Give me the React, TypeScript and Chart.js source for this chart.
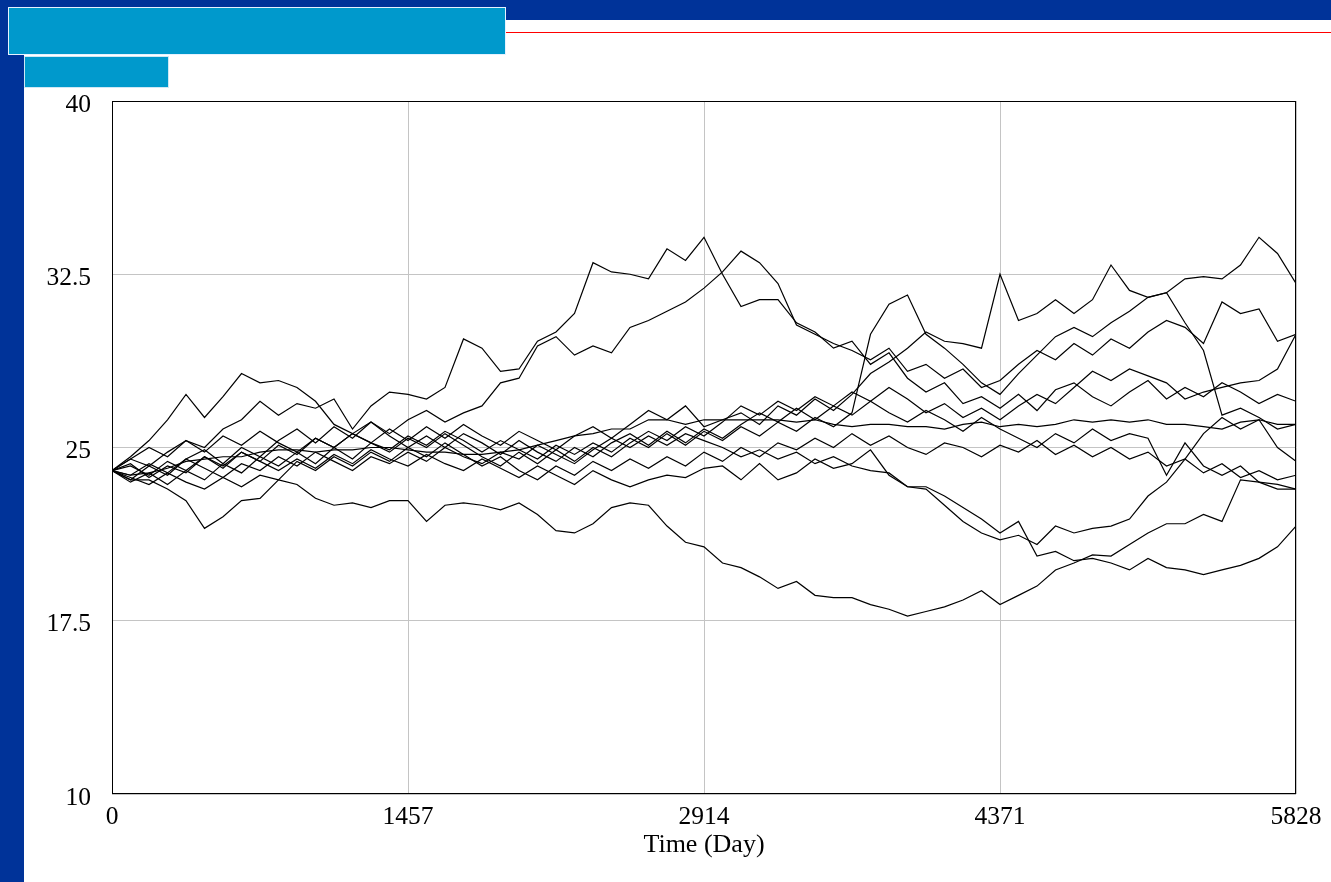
import React, { useEffect, useRef } from "react";
import { Chart, registerables } from "chart.js";

Chart.register(...registerables);

// Axis ticks
const xTicks = [0, 1457, 2914, 4371, 5828];
const yTicks = [10, 17.5, 25, 32.5, 40];
const xMax = 5828;
const timeStep = 91.0625; // days between samples (64 steps over 5828 days)

// Simulated runs (one per sample)
const runA = [
  24.0, 24.5, 24.2, 24.8, 25.3, 25.0, 25.8, 26.2, 27.0, 26.4, 26.9, 26.7, 27.1, 25.8, 26.8, 27.4, 27.3,
  27.1, 27.6, 29.7, 29.3, 28.3, 28.4, 29.6, 30.0, 30.8, 33.0, 32.6, 32.5, 32.3, 33.6, 33.1, 34.1,
  32.5, 31.1, 31.4, 31.4, 30.4, 30.0, 29.3, 29.6, 28.6, 29.1, 28.0, 27.4, 27.8, 26.9, 27.2, 26.7,
  27.3, 26.6, 27.5, 27.8, 27.2, 26.8, 27.4, 27.9, 27.1, 27.6, 27.2, 27.8, 27.4, 26.9, 27.3, 27.0,
];
const runB = [
  24.0, 23.6, 24.2, 23.8, 24.5, 24.9, 24.3, 25.0, 24.6, 25.3, 25.8, 25.2, 25.9, 25.4, 26.1, 25.6, 26.2,
  26.6, 26.1, 26.5, 26.8, 27.8, 28.0, 29.4, 29.8, 29.0, 29.4, 29.1, 30.2, 30.5, 30.9, 31.3, 31.9,
  32.6, 33.5, 33.0, 32.1, 30.3, 29.9, 29.5, 29.2, 28.8, 29.3, 28.3, 28.6, 28.0, 28.4, 27.6, 27.9,
  28.6, 29.2, 28.8, 29.5, 29.0, 29.7, 29.3, 30.0, 30.5, 30.2, 29.5, 31.3, 30.8, 31.0, 29.6, 29.9,
];
const runC = [
  24.0, 24.3, 23.7, 24.2, 23.9, 24.6, 24.1, 24.8, 24.4, 25.1, 24.7, 25.4, 25.0, 25.6, 25.2, 25.8, 25.3,
  25.9, 25.4, 26.0, 25.5, 25.1, 25.7, 25.3, 24.9, 25.5, 25.9, 25.4, 26.0, 26.6, 26.2, 26.8, 25.9,
  26.2, 26.5, 26.0, 26.8, 26.4, 27.1, 26.6, 27.3, 28.2, 28.7, 29.3, 30.0, 29.6, 29.5, 29.3, 32.5,
  30.5, 30.8, 31.4, 30.8, 31.4, 32.9, 31.8, 31.5, 31.7, 32.3, 32.4, 32.3, 32.9, 34.1, 33.4, 32.1,
];
const runD = [
  24.0, 24.5, 25.0, 24.6, 25.3, 24.8, 25.5, 25.1, 25.7, 25.2, 24.8, 25.4, 25.0, 25.6, 25.2, 24.9, 25.5,
  25.1, 25.7, 25.3, 24.8, 25.3, 24.9, 24.5, 25.1, 24.7, 25.2, 24.8, 25.4, 25.0, 25.6, 25.1, 25.7,
  25.3, 25.9, 25.5, 26.1, 25.7, 26.3, 25.9, 26.5, 29.9, 31.2, 31.6, 29.9, 29.3, 28.6, 27.8, 27.3,
  28.2, 29.0, 29.8, 30.2, 29.8, 30.4, 30.9, 31.5, 31.7, 30.4, 29.2, 26.4, 26.7, 26.3, 25.8, 26.0,
];
const runE = [
  24.0, 23.8, 23.9, 24.1, 24.4, 24.5, 24.6, 24.6, 24.8, 24.9, 24.9, 24.8, 24.9, 24.9, 25.0, 25.0, 24.9,
  24.8, 24.8, 24.7, 24.7, 24.8, 24.9, 25.1, 25.3, 25.5, 25.6, 25.8, 25.8, 26.2, 26.2, 26.0, 26.2,
  26.2, 26.2, 26.2, 26.2, 26.1, 26.2, 26.0, 25.9, 26.0, 26.0, 25.9, 25.9, 25.8, 26.0, 26.1, 25.9,
  26.0, 25.9, 26.0, 26.2, 26.1, 26.2, 26.1, 26.2, 26.0, 26.0, 25.9, 25.8, 26.1, 26.2, 26.0, 26.0,
];
const runF = [
  24.0, 23.5, 23.9, 23.4, 24.0, 23.6, 24.3, 23.9, 24.6, 24.2, 24.8, 24.3, 25.0, 24.5, 25.2, 24.8, 25.4,
  25.0, 25.6, 25.1, 24.6, 24.2, 24.8, 24.3, 24.9, 24.4, 25.0, 24.6, 25.2, 25.7, 25.3, 25.9, 25.5,
  26.1, 26.8, 26.4, 27.0, 26.6, 27.2, 26.8, 27.4, 27.0, 27.6, 27.1, 26.5, 26.9, 26.3, 26.7, 26.2,
  26.8, 27.3, 26.9, 27.6, 28.3, 27.9, 28.4, 28.1, 27.8, 27.1, 27.4, 27.6, 27.8, 27.9, 28.4, 29.9,
];
const runG = [
  24.0, 23.7, 23.4, 23.9, 23.5, 23.2, 23.7, 23.3, 23.8, 23.6, 23.4, 22.8, 22.5, 22.6, 22.4, 22.7, 22.7,
  21.8, 22.5, 22.6, 22.5, 22.3, 22.6, 22.1, 21.4, 21.3, 21.7, 22.4, 22.6, 22.5, 21.6, 20.9, 20.7,
  20.0, 19.8, 19.4, 18.9, 19.2, 18.6, 18.5, 18.5, 18.2, 18.0, 17.7, 17.9, 18.1, 18.4, 18.8, 18.2,
  18.6, 19.0, 19.7, 20.0, 20.35, 20.3, 20.8, 21.3, 21.7, 21.7, 22.1, 21.8, 23.6, 23.5, 23.4, 23.2,
];
const runH = [
  24.0, 24.2, 23.8, 24.4, 24.0, 24.6, 24.2, 24.8, 24.4, 24.0, 24.5, 24.1, 24.7, 24.3, 24.9, 24.5, 24.2,
  24.7, 24.3, 24.0, 24.5, 24.1, 23.7, 24.2, 23.8, 23.4, 24.0, 23.6, 23.3, 23.6, 23.8, 23.7, 24.1,
  24.2, 23.6, 24.3, 23.6, 23.9, 24.5, 24.1, 24.3, 24.9, 23.8, 23.3, 23.3, 22.9, 22.4, 21.9, 21.3,
  21.8, 20.3, 20.5, 20.1, 20.2, 20.0, 19.7, 20.2, 19.8, 19.7, 19.5, 19.7, 19.9, 20.2, 20.7, 21.6,
];
const runI = [
  24.0, 23.8, 24.3, 23.9, 24.5, 24.1, 23.7, 24.3, 24.0, 24.6, 24.2, 24.8, 24.4, 24.0, 24.6, 24.3, 24.8,
  24.4, 25.0, 24.6, 24.3, 24.8, 24.5, 25.1, 24.7, 24.3, 24.9, 25.4, 25.0, 25.5, 25.1, 25.6, 25.3,
  25.0, 24.6, 24.9, 24.5, 24.8, 24.3, 24.6, 24.2, 24.0, 23.9, 23.3, 23.2, 22.5, 21.8, 21.3, 21.0,
  21.2, 20.8, 21.6, 21.3, 21.5, 21.6, 21.9, 22.9, 23.5, 24.5, 25.6, 26.3, 25.8, 26.2, 25.0, 24.4,
];
const runJ = [
  24.0, 24.6, 25.3, 26.2, 27.3, 26.3, 27.2, 28.2, 27.8, 27.9, 27.6, 27.0, 26.0, 25.6, 26.1, 25.5, 25.0,
  25.5, 25.0, 25.6, 25.2, 24.7, 25.3, 24.8, 24.4, 25.0, 24.6, 25.2, 25.6, 25.1, 25.7, 25.2, 25.8,
  25.4, 26.0, 26.5, 26.1, 26.7, 26.2, 26.8, 26.4, 27.0, 26.5, 26.1, 26.6, 26.2, 25.7, 26.3, 25.8,
  25.4, 25.0, 25.6, 25.2, 25.8, 25.3, 25.6, 25.4, 23.8, 25.2, 24.2, 23.8, 24.2, 23.5, 23.2, 23.2,
];
const runK = [
  24.0, 23.6, 23.6, 23.2, 22.7, 21.5, 22.0, 22.7, 22.8, 23.6, 24.4, 24.0, 24.6, 24.2, 24.8, 24.4, 25.0,
  24.6, 25.2, 24.7, 24.2, 24.6, 24.0, 23.6, 24.2, 23.8, 24.4, 24.0, 24.5, 24.1, 24.6, 24.2, 24.8,
  24.4, 25.0, 24.6, 25.2, 24.9, 25.4, 25.0, 25.6, 25.1, 25.5, 25.0, 24.7, 25.2, 25.0, 24.6, 25.1,
  24.8, 25.3, 24.7, 25.1, 24.6, 25.0, 24.5, 24.8, 24.2, 24.5, 23.9, 24.3, 23.7, 24.0, 23.6, 23.8,
];

const runs = [runA, runB, runC, runD, runE, runF, runG, runH, runI, runJ, runK];

const FONT = "'Liberation Serif', 'Times New Roman', serif";

const framePlugin = {
  id: "frameBox",
  afterDraw(chart: any) {
    const { ctx, chartArea } = chart;
    const l = Math.round(chartArea.left) + 0.5;
    const t = Math.round(chartArea.top) + 0.5;
    const r = Math.round(chartArea.right) - 0.5;
    const b = Math.round(chartArea.bottom) - 0.5;
    ctx.save();
    ctx.strokeStyle = "#000";
    ctx.lineWidth = 1;
    ctx.strokeRect(l, t, r - l, b - t);
    ctx.restore();
  },
};

export default function App() {
  const ref = useRef<HTMLCanvasElement>(null);

  useEffect(() => {
    document.body.style.margin = "0";
    const days = runA.map((_, i) => i * timeStep);
    const chart = new Chart(ref.current as HTMLCanvasElement, {
      type: "line",
      data: {
        datasets: runs.map((run) => ({
          data: run.map((v, i) => ({ x: days[i], y: v })),
          borderColor: "#000",
          borderWidth: 1.2,
          pointRadius: 0,
          fill: false,
          tension: 0,
        })),
      },
      options: {
        animation: false,
        responsive: false,
        maintainAspectRatio: false,
        layout: { padding: { left: 0, right: 35, top: 101, bottom: 0 } },
        plugins: { legend: { display: false }, tooltip: { enabled: false } },
        scales: {
          x: {
            type: "linear",
            min: 0,
            max: xMax,
            afterBuildTicks: (s: any) => {
              s.ticks = xTicks.map((v) => ({ value: v }));
            },
            afterFit: (s: any) => {
              s.height = 88;
            },
            grid: { color: "#c4c4c4", drawTicks: false, lineWidth: 1 },
            border: { display: false },
            ticks: {
              color: "#000",
              font: { family: FONT, size: 25.5 },
              padding: 8,
              maxRotation: 0,
              autoSkip: false,
              callback: (v: any) => String(v),
            },
            title: {
              display: true,
              text: "Time (Day)",
              color: "#000",
              font: { family: FONT, size: 26 },
              padding: { top: 0, bottom: 21 },
            },
          },
          y: {
            type: "linear",
            min: 10,
            max: 40,
            afterBuildTicks: (s: any) => {
              s.ticks = yTicks.map((v) => ({ value: v }));
            },
            afterFit: (s: any) => {
              s.width = 112;
            },
            grid: { color: "#c4c4c4", drawTicks: false, lineWidth: 1 },
            border: { display: false },
            ticks: {
              color: "#000",
              font: { family: FONT, size: 25.5 },
              padding: 21,
              labelOffset: 4,
              autoSkip: false,
              callback: (v: any) => String(v),
            },
          },
        },
      },
      plugins: [framePlugin],
    });
    return () => chart.destroy();
  }, []);

  return (
    <div style={{ position: "absolute", left: 0, top: 0, width: 1331, height: 882, background: "#fff", overflow: "hidden" }}>
      <div style={{ position: "absolute", left: 0, top: 0, width: 1331, height: 20, background: "#003399" }} />
      <div style={{ position: "absolute", left: 0, top: 0, width: 24, height: 882, background: "#003399" }} />
      <div style={{ position: "absolute", left: 506, top: 32, width: 825, height: 1, background: "#ff0000" }} />
      <div
        style={{
          position: "absolute",
          left: 8,
          top: 7,
          width: 498,
          height: 48,
          background: "#0099cc",
          border: "1px solid #e6f2ff",
          boxSizing: "border-box",
        }}
      />
      <div
        style={{
          position: "absolute",
          left: 24,
          top: 56,
          width: 145,
          height: 32,
          background: "#0099cc",
          border: "1px solid #cfe8f5",
          boxSizing: "border-box",
        }}
      />
      <canvas ref={ref} width={1331} height={882} style={{ position: "absolute", left: 0, top: 0, display: "block" }} />
    </div>
  );
}
